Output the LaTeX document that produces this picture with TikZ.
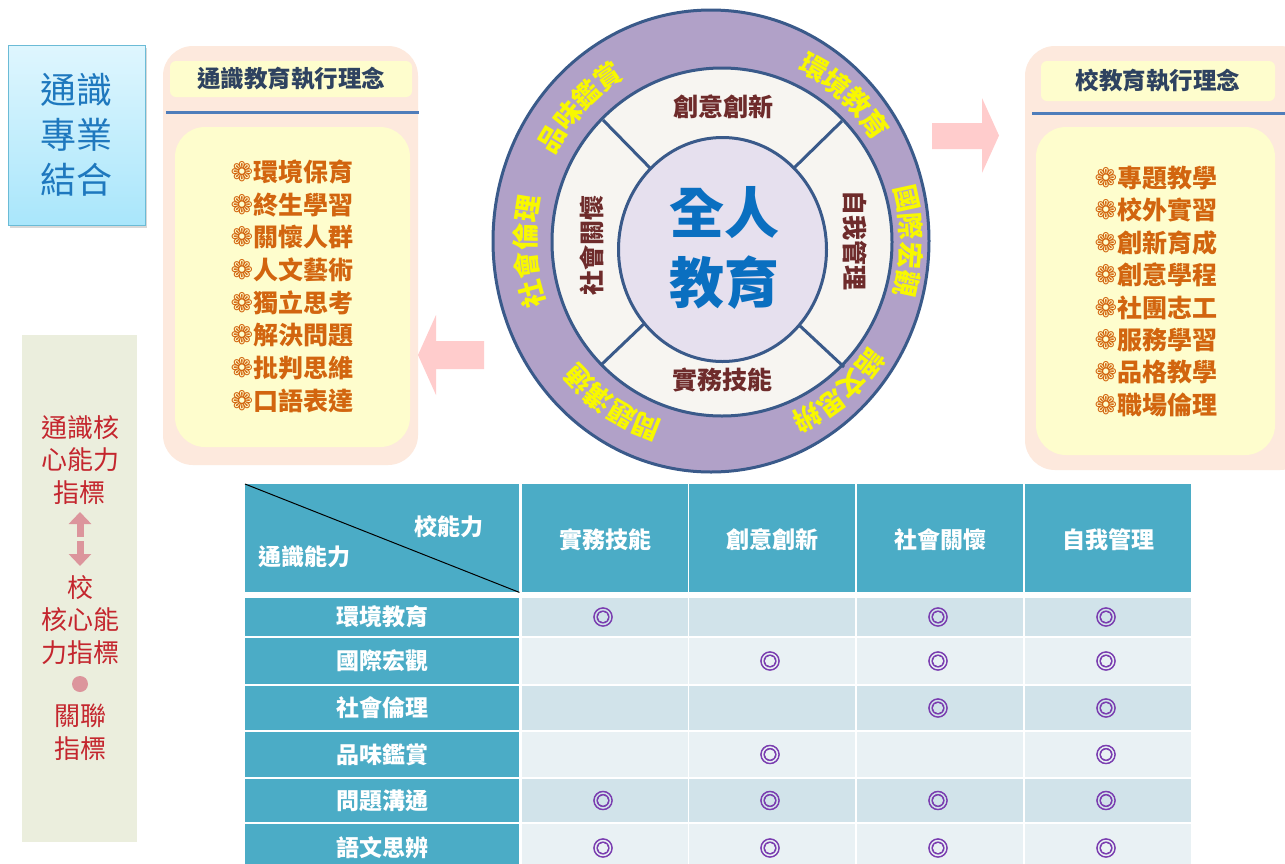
\documentclass[tikz,border=0pt]{standalone}
\usepackage{fontspec}
\setmainfont{Noto Sans CJK TC}
\newfontfamily\symfont{DejaVu Sans}
\newfontfamily\markfont[FakeBold=3]{Noto Sans CJK TC}
\usetikzlibrary{positioning}
\usetikzlibrary{arrows.meta,shadows}

\definecolor{panelpeach}{HTML}{FDE9DD}
\definecolor{panelyellow}{HTML}{FEFDCD}
\definecolor{titlenavy}{HTML}{2E4260}
\definecolor{ruleblue}{HTML}{4F7DBA}
\definecolor{itemorange}{HTML}{D2650F}
\definecolor{ringpurple}{HTML}{B1A1C8}
\definecolor{ringblue}{HTML}{3A5A8A}
\definecolor{ringwhite}{HTML}{F7F5F1}
\definecolor{corelilac}{HTML}{E6E0EE}
\definecolor{coreblue}{HTML}{0A6FC0}
\definecolor{abilityred}{HTML}{6E2B2B}
\definecolor{ringyellow}{HTML}{F8F800}
\definecolor{arrowpink}{HTML}{FFCCCC}
\definecolor{sidegreen}{HTML}{EBEEDD}
\definecolor{sidered}{HTML}{C4262E}
\definecolor{sidepink}{HTML}{DC959C}
\definecolor{tabteal}{HTML}{4BACC6}
\definecolor{cellA}{HTML}{D1E3EA}
\definecolor{cellB}{HTML}{E9F1F4}
\definecolor{markpurple}{HTML}{7A3DB0}
\definecolor{boxblueA}{HTML}{DFF6FE}
\definecolor{boxblueB}{HTML}{A9E6FB}
\definecolor{boxedge}{HTML}{6BBBD6}
\definecolor{textblue}{HTML}{1E78BE}

\begin{document}
\begin{tikzpicture}[x=1pt,y=-1pt,
    panel/.style={fill=panelpeach, draw=none, rounded corners=30pt},
    inbox/.style={fill=panelyellow, draw=none, rounded corners=30pt},
    paneltitle/.style={fill=panelyellow, rounded corners=6pt, text=titlenavy, font=\fontsize{23.5}{26}\selectfont\bfseries},
    ideaitem/.style={text=itemorange, font=\fontsize{25}{30}\selectfont\bfseries, inner sep=0pt},
    ringline/.style={draw=ringblue, line width=3pt},
    ringlab/.style={text=ringyellow, font=\fontsize{27}{30}\selectfont\bfseries, inner sep=0pt},
    abilitylab/.style={text=abilityred, font=\fontsize{25}{30}\selectfont\bfseries, inner sep=0pt},
    sidetext/.style={text=sidered, font=\fontsize{26}{32.5}\selectfont, align=center, inner sep=0pt},
    blockarrow/.style={fill=arrowpink, draw=none},
    tabtext/.style={text=white, font=\fontsize{23}{26}\selectfont\bfseries, inner sep=0pt},
    hitmark/.style={text=markpurple, font=\markfont\fontsize{21}{21}\selectfont, inner sep=0pt}]
    \useasboundingbox (0,0) rectangle (1285,863);
    \clip (0,0) rectangle (1285,863);
    \fill[white] (0,0) rectangle (1285,863);

    % title box
    \node (combo) [draw=boxedge, line width=1pt, top color=boxblueA, bottom color=boxblueB,
        minimum width=137pt, minimum height=180pt,
        drop shadow={shadow xshift=2pt, shadow yshift=-3pt, opacity=0.3},
        text=textblue, font=\fontsize{36}{45}\selectfont, align=center] at (76.5,135) {通識\\專業\\結合};

    % left panel
    \draw[panel] (163,46) rectangle (418,465);
    \node (gentitle) [paneltitle, minimum width=242pt, minimum height=36pt] at (291,79) {通識教育執行理念};
    \draw[ruleblue, line width=3pt] (166,112) -- (419,112);
    \draw[inbox] (175,127) rectangle (410,447);
    \foreach \txt [count=\i] in {環境保育,終生學習,關懷人群,人文藝術,獨立思考,解決問題,批判思維,口語表達}
        \node (gen\i) [ideaitem] at (292,{172+32.7*(\i-1)}) {{\symfont\fontsize{27}{25}\selectfont ❁}\txt};

    % right panel
    \draw[panel] (1025,46) rectangle (1310,470);
    \node (schtitle) [paneltitle, minimum width=234pt, minimum height=40pt] at (1158,81) {校教育執行理念};
    \draw[ruleblue, line width=3pt] (1032,113) -- (1285,113);
    \draw[inbox] (1036,127) rectangle (1275,455);
    \foreach \txt [count=\i] in {專題教學,校外實習,創新育成,創意學程,社團志工,服務學習,品格教學,職場倫理}
        \node (sch\i) [ideaitem] at (1156,{178+32.4*(\i-1)}) {{\symfont\fontsize{27}{25}\selectfont ❁}\txt};

    % wheel
    \draw[ringline, fill=ringpurple] (711,241) ellipse [x radius=218, y radius=231];
    \draw[ringline, fill=ringwhite] (722,242) ellipse [x radius=170, y radius=174];
    \draw[ringline] (603,120) -- (652,170);
    \draw[ringline] (842,121) -- (794,168);
    \draw[ringline] (601,365) -- (646,322);
    \draw[ringline] (844,367) -- (799,325);
    \draw[ringline, fill=corelilac] (722.5,249.5) ellipse [x radius=104, y radius=112];

    \node (core) [text=coreblue, font=\fontsize{55}{70}\selectfont\bfseries, align=center] at (724,248) {全人\\教育};
    \node (creative) [abilitylab] at (723,107) {創意創新};
    \node (practice) [abilitylab] at (722,380) {實務技能};
    \node (selfmgmt) [abilitylab, rotate=-90] at (855,240) {自我管理};
    \node (care) [abilitylab, rotate=90] at (592,245) {社會關懷};

    % outer ring, one glyph at a time along the band
    \foreach \nm/\chars/\tc in {taste/{品,味,鑑,賞}/137, environ/{環,境,教,育}/48,
            global/{國,際,宏,觀}/0, reason/{語,文,思,辨}/-50,
            commun/{問,題,溝,通}/236, ethics/{社,會,倫,理}/183}
        \foreach \ch [count=\k] in \chars {
            \pgfmathsetmacro\ang{\tc+(2.5-\k)*8.2}
            \node (\nm\k) [ringlab, rotate=\ang-90] at ({718+193*cos(\ang)},{241-200*sin(\ang)}) {\ch};
        }

    % block arrows
    \fill[blockarrow] (932,123) -- (982,123) -- (982,98) -- (999,135.5) -- (982,173) -- (982,149) -- (932,149) -- cycle;
    \fill[blockarrow] (484,341) -- (436,341) -- (436,315) -- (418,355) -- (436,395) -- (436,369) -- (484,369) -- cycle;

    % side strip
    \fill[sidegreen] (22,335) rectangle (137,842);
    \node (sideA) [sidetext] at (80,460) {通識核\\心能力\\指標};
    \coordinate (uptip) at (80,512);
    \coordinate (downtip) at (80,566);
    \coordinate (gapA) at (80,537);
    \coordinate (gapB) at (80,541);
    \draw[sidepink, line width=7pt, -{Triangle[width=22pt,length=12pt]}] (gapA) -- (uptip);
    \draw[sidepink, line width=7pt, -{Triangle[width=22pt,length=12pt]}] (gapB) -- (downtip);
    \node (sideB) [sidetext] at (80,620) {校\\核心能\\力指標};
    \node (dot) [circle, fill=sidepink, minimum size=16pt, inner sep=0pt] at (80,684) {};
    \node (sideC) [sidetext] at (80,732) {關聯\\指標};

    % table
    \node (corner) [fill=tabteal, minimum width=274pt, minimum height=108pt, inner sep=0pt, anchor=north west] at (245,484) {};
    \draw[black, line width=1pt] (corner.north west) -- (corner.south east);
    \node (schab) [tabtext] at (449,527) {校能力};
    \node (genab) [tabtext] at (304,557) {通識能力};
    \foreach \x/\txt [count=\c] in {522/實務技能,689/創意創新,857/社會關懷,1025/自我管理} {
        \fill[tabteal] (\x,484) rectangle ({\x+165.5},592);
        \node (head\c) [tabtext] at ({\x+83},540) {\txt};
    }
    \foreach \top/\bot/\shade/\lab/\hits [count=\r] in {
        598/636/cellA/環境教育/{603,938,1106},
        638/684/cellB/國際宏觀/{770,938,1106},
        686/730/cellA/社會倫理/{938,1106},
        732/777/cellB/品味鑑賞/{770,1106},
        779/822/cellA/問題溝通/{603,770,938,1106},
        824/872/cellB/語文思辨/{603,770,938,1106}} {
        \fill[tabteal] (245,\top) rectangle (519,\bot);
        \node (row\r) [tabtext] at (382,{(\top+\bot)/2}) {\lab};
        \foreach \x in {522,689,857,1025}
            \fill[\shade] (\x,\top) rectangle ({\x+165.5},\bot);
        \foreach \hx in \hits
            \node (hit\r-\hx) [hitmark] at (\hx,{(\top+\bot)/2}) {◎};
    }
\end{tikzpicture}
\end{document}
